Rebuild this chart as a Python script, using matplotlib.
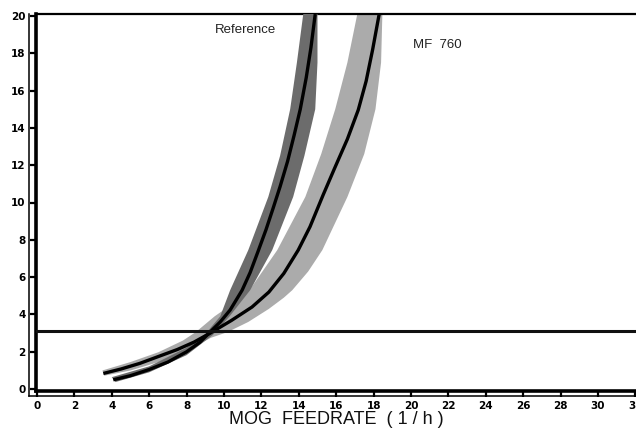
import matplotlib
matplotlib.use("Agg")
import matplotlib.pyplot as plt
from matplotlib.lines import Line2D

# Centre curves (feedrate x, value y)
ref_x = [4.08, 5.0, 6.0, 7.0, 8.0, 8.7, 9.26, 9.8, 10.33, 10.97, 11.4, 11.83,
         12.25, 12.63, 13.0, 13.4, 13.75, 14.08, 14.4, 14.65, 14.88]
ref_y = [0.50, 0.72, 1.05, 1.45, 2.0, 2.5, 3.06, 3.6, 4.24, 5.3, 6.25, 7.4,
         8.55, 9.7, 10.85, 12.2, 13.6, 15.0, 16.7, 18.3, 20.1]

mf_x = [3.55, 4.5, 5.5, 6.5, 7.5, 8.4, 9.26, 10.4, 11.5, 12.4, 13.2, 13.97,
        14.6, 15.3, 15.9, 16.6, 17.18, 17.6, 17.95, 18.3]
mf_y = [0.84, 1.08, 1.38, 1.75, 2.12, 2.52, 3.0, 3.68, 4.4, 5.2, 6.2, 7.45,
        8.7, 10.4, 11.8, 13.4, 14.96, 16.5, 18.2, 20.1]

# Scatter bands: upper/left edge and lower/right edge
ref_lo_x = [4.0, 6.0, 8.0, 9.0, 9.8, 10.33, 11.3, 12.37, 13.0, 13.54, 13.9, 14.24]
ref_lo_y = [0.64, 1.22, 2.22, 2.95, 3.9, 5.3, 7.45, 10.3, 12.5, 15.0, 17.5, 20.1]
ref_hi_x = [4.2, 6.0, 8.0, 9.4, 10.3, 11.4, 12.58, 13.7, 14.3, 14.88, 15.0, 15.0]
ref_hi_y = [0.38, 0.9, 1.82, 2.9, 3.9, 5.3, 7.45, 10.3, 12.5, 15.0, 17.5, 20.1]

mf_lo_x = [3.5, 5.0, 6.5, 7.8, 8.5, 9.5, 10.5, 11.5, 12.85, 14.35, 15.2, 15.95, 16.6, 17.13]
mf_lo_y = [1.0, 1.45, 1.98, 2.6, 3.06, 3.9, 4.6, 5.5, 7.45, 10.3, 12.6, 15.0, 17.5, 20.1]
mf_hi_x = [3.6, 5.0, 6.5, 8.0, 9.3, 10.2, 11.3, 12.4, 13.2, 13.65, 14.5, 15.26,
           16.6, 17.5, 18.1, 18.4, 18.47]
mf_hi_y = [0.72, 1.0, 1.45, 2.05, 2.75, 3.06, 3.6, 4.3, 4.9, 5.3, 6.3, 7.45,
           10.3, 12.6, 15.0, 17.5, 20.1]

limit_value = 3.1

x_ticks = list(range(0, 33, 2))
y_ticks = list(range(0, 21, 2))

W, H = 636, 432
fig = plt.figure(figsize=(W / 100, H / 100), dpi=100)
ax = fig.add_axes([36 / W, 41 / H, 1 - 36 / W, 377 / H])
ax.set_xlim(-0.05, 32.03)
ax.set_ylim(-0.1, 20.1)

ax.fill(mf_lo_x + mf_hi_x[::-1], mf_lo_y + mf_hi_y[::-1],
        color="#ababab", lw=0, zorder=2)
ax.fill(ref_lo_x + ref_hi_x[::-1], ref_lo_y + ref_hi_y[::-1],
        color="#6c6c6c", lw=0, zorder=3)
ax.plot(mf_x, mf_y, color="black", lw=2.4, zorder=4, solid_capstyle="butt",
        solid_joinstyle="round")
ax.plot(ref_x, ref_y, color="black", lw=2.4, zorder=5, solid_capstyle="butt",
        solid_joinstyle="round")
ax.axhline(limit_value, color="#111111", lw=2.2, zorder=6)

ax.text(9.5, 19.25, "Reference", fontsize=9.5, color="#222222",
        family="Liberation Sans", va="center", ha="left")
ax.text(20.1, 18.45, "MF  760", fontsize=9.5, color="#222222",
        family="Liberation Sans", va="center", ha="left")

ax.spines["right"].set_visible(False)
ax.spines["top"].set_linewidth(1.6)
ax.spines["left"].set_linewidth(2.6)
ax.spines["bottom"].set_linewidth(2.6)

tick_font = dict(family=["Liberation Sans Narrow", "DejaVu Sans"],
                 weight="bold", size=7.5)
ax.set_xticks(x_ticks)
ax.set_yticks(y_ticks)
ax.set_xticklabels([str(t) for t in x_ticks], **tick_font)
ax.set_yticklabels([str(t) for t in y_ticks], **tick_font)
ax.tick_params(direction="out", length=4.5, width=1.6, color="black", pad=3)

ax.set_xlabel("MOG  FEEDRATE  ( 1 / h )", fontsize=13, family="Liberation Sans",
              labelpad=0, color="#111111")

# thin outer rails of the axis rulers
fig.add_artist(Line2D([29 / W, 29 / W], [1 - 14 / H, 1 - 396 / H],
                      transform=fig.transFigure, color="black", lw=1.1))
fig.add_artist(Line2D([29 / W, 1.0], [1 - 396 / H, 1 - 396 / H],
                      transform=fig.transFigure, color="black", lw=1.1))

fig.savefig("out.png", dpi=100)
